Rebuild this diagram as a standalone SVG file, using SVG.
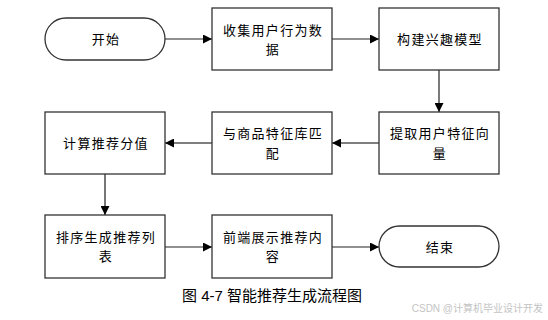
<svg xmlns="http://www.w3.org/2000/svg" width="548" height="320" viewBox="0 0 548 320">
<defs>
<marker id="ah" viewBox="0 0 10 10" refX="10" refY="5" markerWidth="9" markerHeight="9" markerUnits="userSpaceOnUse" orient="auto">
<path d="M0,0 L10,5 L0,10 z" fill="#000"/>
</marker>
<style>
.box{fill:#fff;stroke:#333;stroke-width:1.3}
.t{font-family:"Liberation Sans","Noto Sans CJK SC",sans-serif;font-size:13px;fill:#000;text-anchor:middle;letter-spacing:1.3px}
.c{fill:none;stroke:#222;stroke-width:1.2;marker-end:url(#ah)}
.c2{fill:none;stroke:#555;stroke-width:1.6;marker-end:url(#ah)}
</style>
</defs>
<rect width="548" height="320" fill="#fff"/>
<g id="connectors">
<line class="c" x1="165" y1="39" x2="212" y2="39"/>
<line class="c" x1="332" y1="39" x2="379" y2="39"/>
<line class="c" x1="439" y1="70" x2="439" y2="112"/>
<line class="c2" x1="379" y1="143" x2="332" y2="143"/>
<line class="c2" x1="212" y1="143" x2="165" y2="143"/>
<line class="c2" x1="105" y1="174" x2="105" y2="215"/>
<line class="c" x1="165" y1="247" x2="212" y2="247"/>
<line class="c" x1="332" y1="247" x2="379" y2="247"/>
</g>
<g id="start">
<rect class="box" x="45" y="18" width="120" height="42" rx="21" ry="21"/>
<text class="t" x="106" y="44">开始</text>
</g>
<g id="collect">
<rect class="box" x="212" y="8" width="120" height="62"/>
<text class="t" x="273" y="35">收集用户行为数</text>
<text class="t" x="273" y="53.5">据</text>
</g>
<g id="model">
<rect class="box" x="379" y="8" width="120" height="62"/>
<text class="t" x="440" y="44">构建兴趣模型</text>
</g>
<g id="extract">
<rect class="box" x="379" y="112" width="120" height="62"/>
<text class="t" x="440" y="138">提取用户特征向</text>
<text class="t" x="440" y="157.5">量</text>
</g>
<g id="match">
<rect class="box" x="212" y="112" width="120" height="62"/>
<text class="t" x="273" y="138">与商品特征库匹</text>
<text class="t" x="273" y="157.5">配</text>
</g>
<g id="score">
<rect class="box" x="45" y="112" width="120" height="62"/>
<text class="t" x="106" y="148">计算推荐分值</text>
</g>
<g id="sort">
<rect class="box" x="45" y="215" width="120" height="63"/>
<text class="t" x="106" y="242">排序生成推荐列</text>
<text class="t" x="106" y="261">表</text>
</g>
<g id="display">
<rect class="box" x="212" y="215" width="120" height="63"/>
<text class="t" x="273" y="242">前端展示推荐内</text>
<text class="t" x="273" y="261">容</text>
</g>
<g id="end">
<rect class="box" x="379" y="226" width="120" height="41" rx="20.5" ry="20.5"/>
<text class="t" x="440" y="251.5">结束</text>
</g>
<text x="182" y="301" font-family="'Liberation Sans','Noto Sans CJK SC',sans-serif" font-size="15" fill="#000">图 4-7 智能推荐生成流程图</text>
<text x="543" y="312" text-anchor="end" font-family="'Liberation Sans','Noto Sans CJK SC',sans-serif" font-size="10" fill="#c4c4c4">CSDN @计算机毕业设计开发</text>
</svg>
